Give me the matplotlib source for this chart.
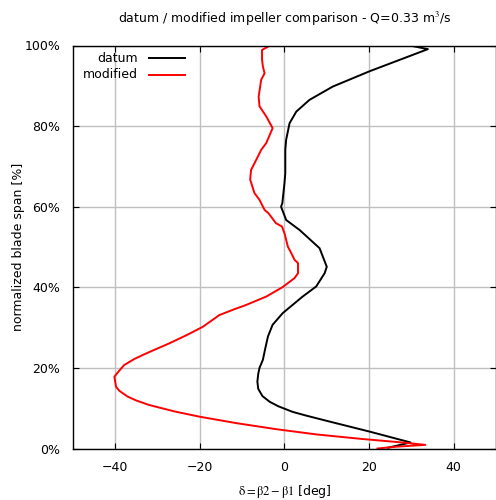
import numpy as np
import matplotlib.pyplot as plt

plt.rcParams['mathtext.fontset'] = 'stix'

# datum impeller: deviation angle [deg] vs blade span [%]
datum_x = [24.5, 29.8, 20.1, 10.6, 5.0, 1.9, -1.5, -3.5, -5.2, -6.2, -6.4, -6.2,
           -5.9, -5.1, -4.5, -3.9, -2.8, -0.4, 4.3, 7.5, 9.5, 10.0, 8.3, 3.6,
           0.4, -0.8, -0.5, 0.0, 0.2, 0.2, 0.4, 1.2, 2.8, 5.9, 11.4, 20.1, 33.9, 29.6]
datum_y = [0.2, 1.5, 4.2, 6.7, 8.2, 9.1, 10.5, 11.6, 13.0, 14.8, 16.6, 18.5,
           20.0, 22.0, 25.0, 27.8, 30.7, 33.6, 37.7, 40.2, 43.5, 45.1, 49.7, 54.2,
           56.7, 60.0, 60.9, 65.8, 68.3, 74.1, 76.6, 80.7, 83.6, 86.5, 89.8, 93.6, 99.1, 100.0]

# modified impeller
mod_x = [22.0, 26.4, 33.3, 28.8, 18.0, 7.5, -2.0, -11.4, -20.1, -26.0, -32.0, -35.0,
         -37.1, -39.0, -39.8, -40.2, -39.3, -37.9, -35.5, -33.5, -30.5, -27.2, -23.0,
         -19.3, -15.4, -12.0, -9.1, -4.3, -0.5, 2.4, 3.2, 3.2, 3.2, 2.4, 1.6, 0.8, 0.4,
         0.0, -0.6, -2.0, -3.8, -4.7, -5.9, -7.1, -8.1, -7.9, -6.3, -5.5, -4.3, -2.8,
         -4.3, -5.9, -6.1, -5.5, -4.7, -5.1, -5.3, -5.3, -3.4]
mod_y = [0.0, 0.45, 0.9, 1.4, 2.4, 3.5, 4.8, 6.3, 7.9, 9.2, 10.8, 11.9,
         12.9, 14.3, 15.3, 17.8, 19.0, 20.7, 22.2, 23.2, 24.6, 26.1, 28.2,
         30.2, 33.1, 34.5, 35.6, 37.7, 40.0, 42.3, 43.5, 44.7, 46.0, 46.8, 48.5, 50.1, 51.8,
         53.4, 55.1, 55.9, 58.4, 59.2, 61.7, 63.4, 66.7, 69.1, 72.4, 74.1, 75.8, 79.5,
         82.4, 84.9, 87.3, 91.5, 93.1, 94.8, 96.5, 98.9, 100.0]

x_ticks = [-40, -20, 0, 20, 40]
y_ticks = [0, 20, 40, 60, 80, 100]

fig = plt.figure(figsize=(4.96, 5.0), dpi=100)
ax = fig.add_axes([0.147, 0.103, 0.853, 0.806])

ax.plot(datum_x, datum_y, color='black', lw=1.4)
ax.plot(mod_x, mod_y, color='red', lw=1.4)

ax.set_xlim(-50, 50)
ax.set_ylim(0, 100)
ax.set_xticks(x_ticks)
ax.set_yticks(y_ticks)
ax.set_yticklabels(['%d%%' % v for v in y_ticks])
ax.grid(True, color='#c0c0c0', lw=1.0)
ax.tick_params(direction='in', length=4, top=True, right=True, labelsize=9, pad=9)
for s in ax.spines.values():
    s.set_linewidth(1.0)

ax.set_title('datum / modified impeller comparison - Q=0.33 m$^3$/s', fontsize=9, pad=16)
ax.set_ylabel('normalized blade span [%]', fontsize=9)
ax.yaxis.set_label_coords(-0.113, 0.5)
ax.set_xlabel(r'$\mathrm{\delta=\beta2-\beta1}$ [deg]', fontsize=9)
ax.xaxis.set_label_coords(0.5, -0.085)

# gnuplot style key: right aligned text then line sample
for i, (name, c) in enumerate([('datum', 'black'), ('modified', 'red')]):
    yy = 0.968 - i * 0.04
    ax.text(0.153, yy, name, transform=ax.transAxes, ha='right', va='center', fontsize=9)
    ax.plot([0.179, 0.264], [yy, yy], transform=ax.transAxes, color=c, lw=1.4)

fig.savefig('out.png', dpi=100)
